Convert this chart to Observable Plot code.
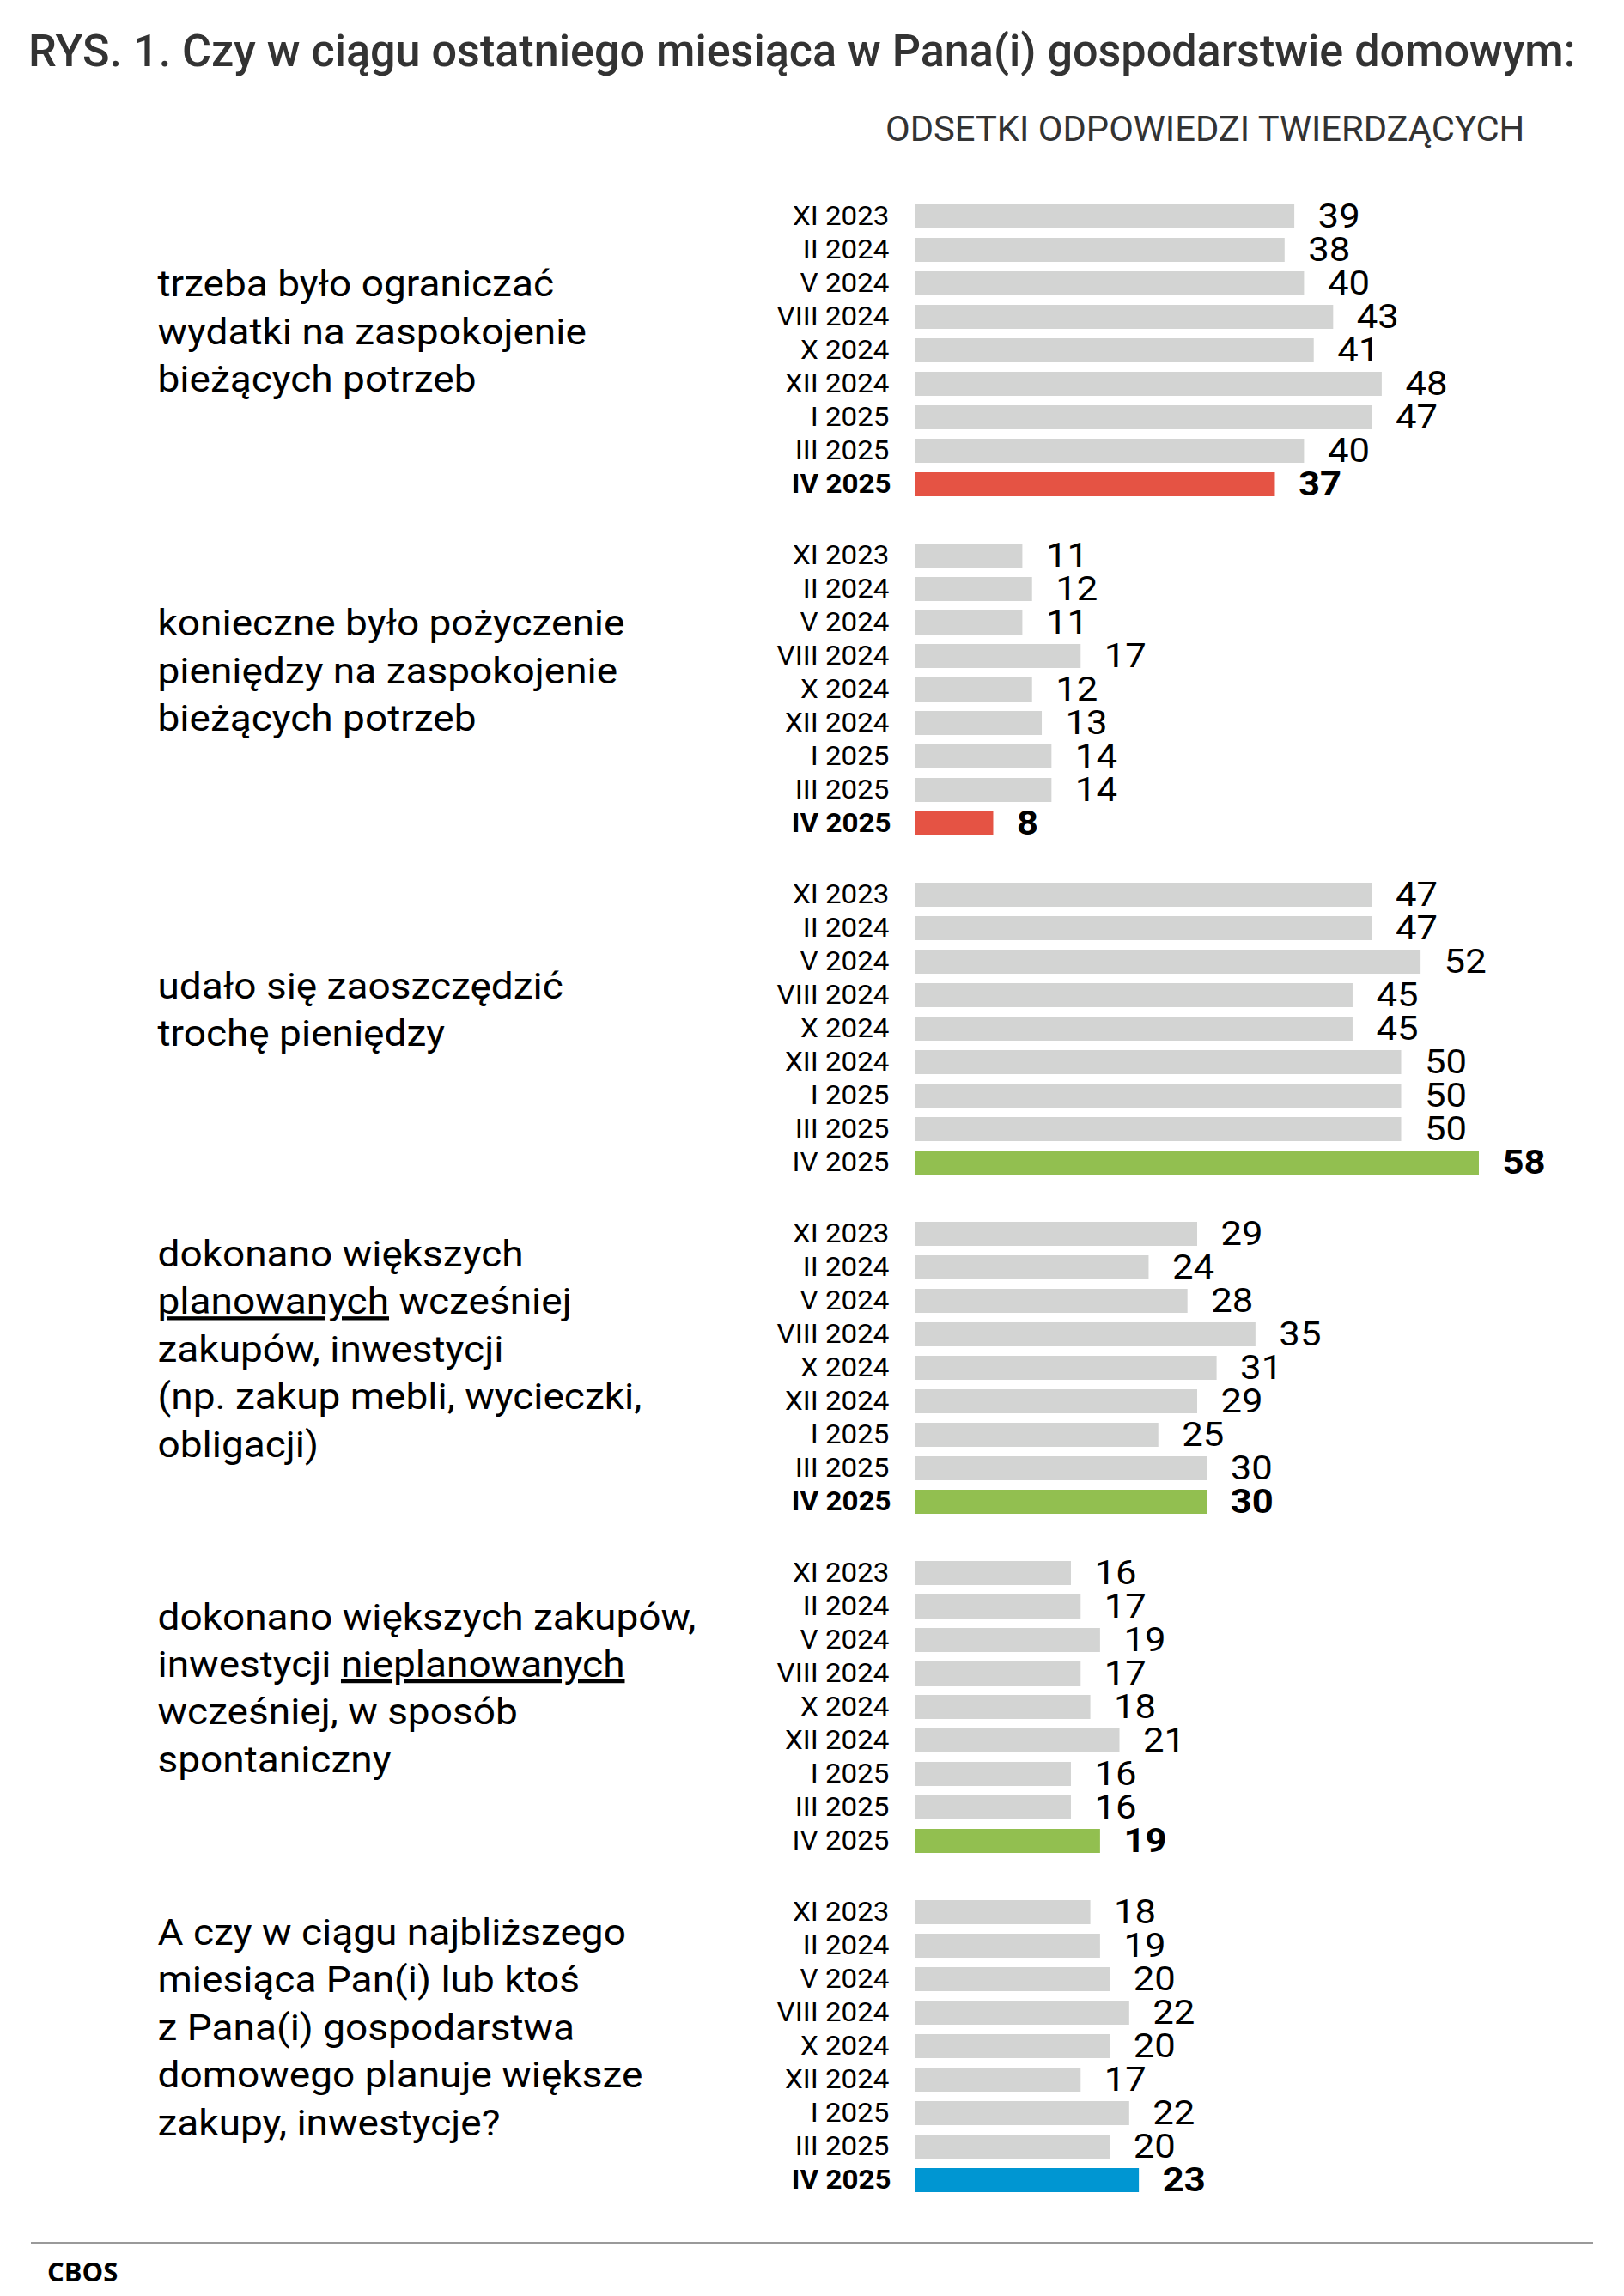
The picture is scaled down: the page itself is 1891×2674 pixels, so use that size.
<!DOCTYPE html>
<html lang="pl">
<head>
<meta charset="utf-8">
<script src="https://cdn.jsdelivr.net/npm/d3@7"></script>
<script src="https://cdn.jsdelivr.net/npm/@observablehq/plot@0.6"></script>
<style>
  html, body { margin: 0; padding: 0; background: #fff; }
  body { width: 1891px; height: 2674px; position: relative; overflow: hidden; font-family: Roboto, sans-serif; }
  #title { position: absolute; left: 33px; top: 34px; font-size: 51px; line-height: 1; font-weight: 500; color: #333; white-space: nowrap; transform: scaleX(1.022); transform-origin: 0 0; }
  #subtitle { position: absolute; left: 1031px; top: 131px; font-size: 40px; line-height: 1; font-weight: 400; color: #333; white-space: nowrap; transform: scaleX(1.043); transform-origin: 0 0; }
  #chart { position: absolute; left: 0; top: 190px; }
  #rule { position: absolute; left: 36px; top: 2611px; width: 1819px; height: 2.5px; background: #9a9a9a; }
  #source { position: absolute; left: 55px; top: 2630px; font-family: "Open Sans", sans-serif; font-weight: 700; font-size: 31px; line-height: 1; color: #000; }
</style>
</head>
<body>
<div id="title">RYS. 1. Czy w ciągu ostatniego miesiąca w Pana(i) gospodarstwie domowym:</div>
<div id="subtitle">ODSETKI ODPOWIEDZI TWIERDZĄCYCH</div>
<div id="chart"></div>
<div id="rule"></div>
<div id="source">CBOS</div>
<script>
// ---- data ----
const periods = ["XI 2023", "II 2024", "V 2024", "VIII 2024", "X 2024", "XII 2024", "I 2025", "III 2025", "IV 2025"];

const questions = [
  "trzeba było ograniczać\nwydatki na zaspokojenie\nbieżących potrzeb",
  "konieczne było pożyczenie\npieniędzy na zaspokojenie\nbieżących potrzeb",
  "udało się zaoszczędzić\ntrochę pieniędzy",
  "dokonano większych\nplanowanych wcześniej\nzakupów, inwestycji\n(np. zakup mebli, wycieczki,\nobligacji)",
  "dokonano większych zakupów,\ninwestycji nieplanowanych\nwcześniej, w sposób\nspontaniczny",
  "A czy w ciągu najbliższego\nmiesiąca Pan(i) lub ktoś\nz Pana(i) gospodarstwa\ndomowego planuje większe\nzakupy, inwestycje?"
];

const values1 = [39, 38, 40, 43, 41, 48, 47, 40, 37];
const values2 = [11, 12, 11, 17, 12, 13, 14, 14, 8];
const values3 = [47, 47, 52, 45, 45, 50, 50, 50, 58];
const values4 = [29, 24, 28, 35, 31, 29, 25, 30, 30];
const values5 = [16, 17, 19, 17, 18, 21, 16, 16, 19];
const values6 = [18, 19, 20, 22, 20, 17, 22, 20, 23];

// tone of the latest wave per question
const latestTone = ["neg", "neg", "pos", "pos", "pos", "plan"];
const underlinedWords = [null, null, null, "planowanych", "nieplanowanych", null];

// ---- styling config ----
const latestLabelBold = [true, true, false, true, false, true];
const toneDomain = ["past", "neg", "pos", "plan"];
const toneRange = ["#d3d4d3", "#e55344", "#92bf50", "#0096d2"];

// ---- build table ----
const seriesValues = [values1, values2, values3, values4, values5, values6];
const latest = periods[periods.length - 1];
const rows = [];
seriesValues.forEach((vals, qi) => {
  vals.forEach((v, pi) => {
    rows.push({
      q: qi,
      period: periods[pi],
      value: v,
      tone: periods[pi] === latest ? latestTone[qi] : "past",
      latest: periods[pi] === latest,
      bold: periods[pi] === latest && latestLabelBold[qi]
    });
  });
});
const qRows = questions.map((label, q) => ({q, label}));

const maxVal = d3.max(rows, d => d.value);
const pxPerUnit = 11.31;
const W = 1891, ML = 1066;
const MR = W - ML - pxPerUnit * maxVal;

const periodSize = 31, valueSize = 39, questionSize = 43;

const plot = Plot.plot({
  width: W,
  height: 2386,
  marginTop: 34,
  marginBottom: 10,
  marginLeft: ML,
  marginRight: MR,
  style: {fontFamily: "Roboto, sans-serif", background: "#fff", color: "#000"},
  x: {domain: [0, maxVal], axis: null},
  y: {domain: periods, padding: 0.29, axis: null},
  fy: {domain: d3.range(questions.length), paddingInner: 0.0709, paddingOuter: 0, axis: null},
  color: {domain: toneDomain, range: toneRange},
  marks: [
    Plot.barX(rows, {fy: "q", y: "period", x: "value", fill: "tone"}),
    // period labels
    Plot.text(rows.filter(d => !d.bold), {fy: "q", y: "period", text: "period", frameAnchor: "left", dx: -31, textAnchor: "end", fontSize: periodSize, fill: "#000"}),
    Plot.text(rows.filter(d => d.bold), {fy: "q", y: "period", text: "period", frameAnchor: "left", dx: -29, textAnchor: "end", fontSize: periodSize, fontWeight: "bold", fill: "#000"}),
    // value labels
    Plot.text(rows.filter(d => !d.latest), {fy: "q", y: "period", x: "value", text: d => String(d.value), dx: 27, textAnchor: "start", fontSize: valueSize, fill: "#000"}),
    Plot.text(rows.filter(d => d.latest), {fy: "q", y: "period", x: "value", text: d => String(d.value), dx: 27, textAnchor: "start", fontSize: valueSize, fontWeight: "bold", fill: "#000"}),
    // question labels
    Plot.text(qRows, {fy: "q", text: "label", frameAnchor: "left", dx: 183 - ML, dy: -25, textAnchor: "start", lineAnchor: "middle", fontSize: questionSize, lineHeight: 1.29, fill: "#000"})
  ]
});

document.getElementById("chart").appendChild(plot);

// underline selected words in question labels
questions.forEach((label, qi) => {
  const word = underlinedWords[qi];
  if (!word) return;
  const flat = label.replace(/\n/g, "");
  plot.querySelectorAll("text").forEach(t => {
    if (t.textContent !== flat) return;
    t.querySelectorAll("tspan").forEach(ts => {
      const s = ts.textContent;
      const re = new RegExp("(^|\\s)" + word + "(?=[\\s,]|$)");
      const m = re.exec(s);
      if (!m) return;
      const start = m.index + m[1].length;
      const before = s.slice(0, start), after = s.slice(start + word.length);
      ts.textContent = before;
      const u = document.createElementNS("http://www.w3.org/2000/svg", "tspan");
      u.textContent = word;
      u.setAttribute("style", "text-decoration: underline; text-decoration-thickness: 2px;");
      ts.appendChild(u);
      ts.appendChild(document.createTextNode(after));
    });
  });
});

// the reference typeface is set slightly wider than Roboto: stretch glyphs horizontally around their anchors
const stretch = {[periodSize]: 1.07, [valueSize]: 1.12, [questionSize]: 1.07};
Object.entries(stretch).forEach(([size, k]) => {
  plot.querySelectorAll(`g[font-size="${size}"] > text`).forEach(t => {
    const tr = t.getAttribute("transform") || "";
    t.setAttribute("transform", `${tr} scale(${k},1)`);
  });
});
</script>
</body>
</html>
